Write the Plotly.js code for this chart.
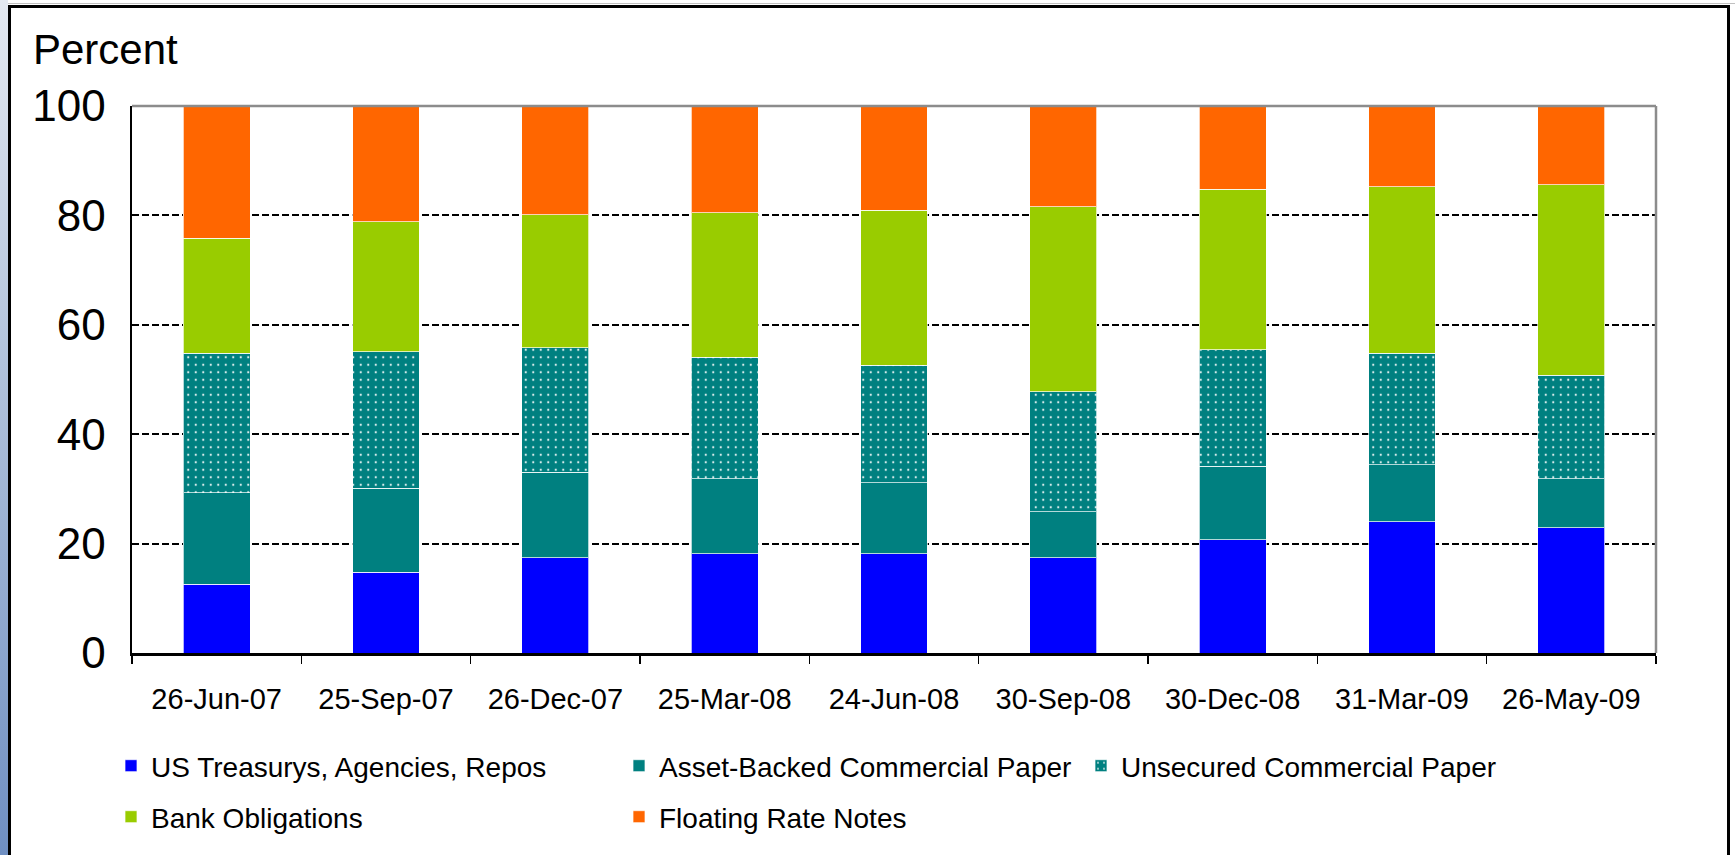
<!DOCTYPE html>
<html>
<head>
<meta charset="utf-8">
<script src="https://cdn.plot.ly/plotly-3.0.1.min.js"></script>
<style>
  html, body { margin: 0; padding: 0; background: #ffffff; }
  #strip { position: absolute; left: 0; top: 0; width: 8px; height: 855px;
           background: linear-gradient(to bottom, #e4e9f1 0%, #a9bcd8 50%, #6f8fc2 100%); }
  #topline { position: absolute; left: 8px; top: 3px; width: 1727px; height: 1px; background: #c0c0c0; }
  #frame { position: absolute; left: 8px; top: 5px; width: 1722px; height: 870px;
           border: 3px solid #000; box-sizing: border-box; background: #fff; }
  #chart { position: absolute; left: 0; top: 0; width: 1735px; height: 855px; }
</style>
</head>
<body>
<div id="strip"></div>
<div id="topline"></div>
<div id="frame"></div>
<div id="chart"></div>
<script>
// ---- data (segment shares, percent) ----
var dates = ["26-Jun-07", "25-Sep-07", "26-Dec-07", "25-Mar-08", "24-Jun-08",
             "30-Sep-08", "30-Dec-08", "31-Mar-09", "26-May-09"];
var treasurys   = [12.6, 14.8, 17.4, 18.1, 18.1, 17.4, 20.7, 24.0, 22.9];
var abcp        = [16.7, 15.3, 15.6, 13.8, 13.0,  8.4, 13.4, 10.4,  9.0];
var unsecuredCP = [25.5, 25.0, 22.8, 22.2, 21.5, 22.0, 21.3, 20.4, 18.9];
var bankObl     = [21.0, 23.7, 24.3, 26.4, 28.3, 33.8, 29.4, 30.4, 34.8];
var frn         = [24.2, 21.2, 19.9, 19.5, 19.1, 18.4, 15.2, 14.8, 14.4];
var yTicks = [0, 20, 40, 60, 80, 100];

// ---- layout geometry (px) ----
var W = 1735, H = 855;
var L = 132, R = 1656, T = 106, B = 653;
var pw = R - L, ph = B - T;
function px2x(px) { return (px - L) / pw; }
function px2y(py) { return (B - py) / ph; }

var regular = "Liberation Sans, Arial, sans-serif";

function bar(name, vals, color, legendId, extra) {
  var m = { color: color, line: { color: "rgba(255,255,255,0.7)", width: 1 } };
  if (extra) m.pattern = extra;
  return { type: "bar", name: name, x: dates, y: vals, marker: m,
           legend: legendId, hoverinfo: "name+y" };
}

var traces = [
  bar("US Treasurys, Agencies, Repos", treasurys, "#0000FF", "legend"),
  bar("Asset-Backed Commercial Paper", abcp, "#008080", "legend2"),
  bar("Unsecured Commercial Paper", unsecuredCP, "#008080", "legend3",
      { shape: ".", bgcolor: "#008080", fgcolor: "#d8ecec", size: 7.5, solidity: 0.07 }),
  bar("Bank Obligations", bankObl, "#99CC00", "legend4"),
  bar("Floating Rate Notes", frn, "#FF6600", "legend5")
];

function leg(textStartPx, rowPy) {
  return { x: px2x(textStartPx - 40), y: px2y(rowPy), xanchor: "left", yanchor: "middle",
           orientation: "v", bgcolor: "rgba(0,0,0,0)", borderwidth: 0,
           font: { family: regular, size: 28, color: "#000" } };
}

var layout = {
  width: W, height: H,
  margin: { l: L, r: W - R, t: T, b: H - B, pad: 0 },
  paper_bgcolor: "rgba(0,0,0,0)",
  plot_bgcolor: "#ffffff",
  barmode: "stack",
  bargap: 0.605,
  showlegend: true,
  xaxis: {
    type: "category",
    showline: true, linecolor: "#000", linewidth: 2.5,
    ticks: "outside", tickson: "boundaries", ticklen: 8, tickwidth: 1.5, tickcolor: "#000",
    tickangle: 0,
    tickfont: { family: regular, size: 29, color: "#000" },
    ticklabelstandoff: 19,
    showgrid: false, zeroline: false, fixedrange: true
  },
  yaxis: {
    range: [0, 100], tickvals: yTicks, ticktext: yTicks.map(String),
    showline: true, linecolor: "#000", linewidth: 2.5,
    ticks: "", ticklabelstandoff: 15,
    tickfont: { family: regular, size: 44, color: "#000" },
    showgrid: true, gridcolor: "#000", gridwidth: 2, griddash: "7px,3px",
    zeroline: false, fixedrange: true
  },
  legend:  leg(151, 766),
  legend2: leg(659, 766),
  legend3: leg(1121, 766),
  legend4: leg(151, 817),
  legend5: leg(659, 817),
  shapes: [
    { type: "line", xref: "paper", yref: "paper", x0: 0, x1: 1, y0: 1, y1: 1,
      line: { color: "#8c8c8c", width: 2.5 }, layer: "above" },
    { type: "line", xref: "paper", yref: "paper", x0: 1, x1: 1, y0: 0, y1: 1,
      line: { color: "#8c8c8c", width: 2.5 }, layer: "above" }
  ],
  annotations: [
    { text: "Percent", xref: "paper", yref: "paper", x: px2x(31), y: px2y(49),
      xanchor: "left", yanchor: "middle", showarrow: false,
      font: { family: regular, size: 42, color: "#000" } }
  ]
};

Plotly.newPlot("chart", traces, layout, { displayModeBar: false, staticPlot: true });
</script>
</body>
</html>
